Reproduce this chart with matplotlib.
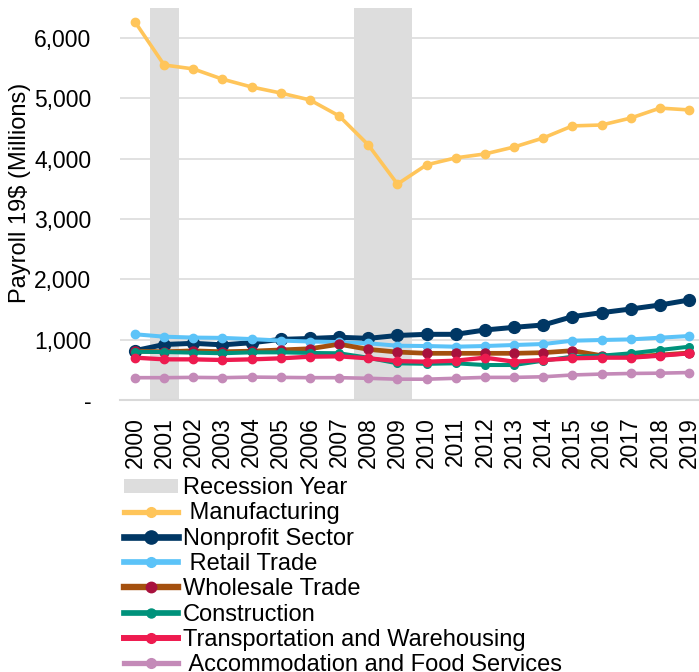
import matplotlib
matplotlib.use("Agg")
import matplotlib.pyplot as plt
from matplotlib.lines import Line2D
from matplotlib.patches import Patch
import numpy as np

plt.rcParams['font.family'] = ['Liberation Sans', 'DejaVu Sans']

years = list(range(2000, 2020))
year_labels = [str(y) for y in years]
recession_years = [2001, 2008, 2009]

manufacturing = [6270, 5555, 5490, 5320, 5190, 5090, 4975, 4710, 4230, 3580,
                 3900, 4015, 4080, 4195, 4345, 4545, 4560, 4675, 4840, 4810]
nonprofit = [818, 920, 940, 915, 950, 1005, 1020, 1040, 1022, 1070,
             1089, 1089, 1161, 1205, 1244, 1382, 1448, 1509, 1575, 1658]
retail = [1090, 1050, 1035, 1030, 1010, 985, 970, 960, 940, 900,
          895, 884, 895, 912, 928, 983, 995, 1005, 1033, 1061]
wholesale = [810, 800, 815, 800, 810, 830, 850, 925, 840, 795,
             774, 774, 774, 774, 785, 818, 735, 715, 745, 780]
construction = [800, 795, 785, 775, 790, 790, 780, 775, 700, 608,
                600, 608, 580, 580, 652, 718, 735, 774, 829, 884]
transportation = [702, 674, 674, 663, 674, 691, 718, 724, 691, 645,
                  635, 652, 702, 635, 663, 691, 702, 702, 735, 774]
accommodation = [370, 370, 375, 370, 380, 375, 370, 370, 360, 345,
                 345, 360, 375, 375, 385, 415, 430, 440, 445, 455]

series = [
    (" Manufacturing", manufacturing, "#FFC55A", "#FFC55A", 2.6, 6),
    ("Nonprofit Sector", nonprofit, "#003764", "#003764", 3.6, 8.5),
    (" Retail Trade", retail, "#5CC3F8", "#5CC3F8", 2.9, 6),
    ("Wholesale Trade", wholesale, "#A4500E", "#A8113D", 3.4, 6.5),
    ("Construction", construction, "#00927B", "#00927B", 2.9, 5.5),
    ("Transportation and Warehousing", transportation, "#EE1B4F", "#EE1B4F", 3.1, 6),
    (" Accommodation and Food Services", accommodation, "#C48AB8", "#C48AB8", 2.6, 6),
]

W, H = 699, 672
fig = plt.figure(figsize=(W / 100, H / 100), dpi=100)
ax_left, ax_right = 120.4, 699
ax_top, ax_bot = 8, 400
ax = fig.add_axes([ax_left / W, 1 - ax_bot / H, (ax_right - ax_left) / W, (ax_bot - ax_top) / H])

x = np.arange(len(years))
ymax = 6500
rec_heights = [ymax if y in recession_years else 0 for y in years]
ax.bar(x, rec_heights, width=1.0, color="#DDDDDD", linewidth=0, zorder=1)

for name, vals, lc, mc, lw, ms in series:
    ax.plot(x, vals, color=lc, lw=lw, marker="o", ms=ms, mfc=mc, mec=mc, zorder=3)

ax.set_xlim(-0.5, 19.34)
ax.set_ylim(0, ymax)
ax.set_yticks([0, 1000, 2000, 3000, 4000, 5000, 6000])
ax.set_yticklabels(["-", "1,000", "2,000", "3,000", "4,000", "5,000", "6,000"])
ax.set_xticks(x)
ax.set_xticklabels(year_labels, rotation=90)
ax.tick_params(axis="y", length=0, pad=21, labelsize=16.5)
ax.tick_params(axis="x", length=0, pad=12, labelsize=16.5)
ax.grid(axis="y", color="#D9D9D9", lw=1.1, zorder=0)
ax.set_axisbelow(True)
for s in ["top", "right", "left"]:
    ax.spines[s].set_visible(False)
ax.spines["bottom"].set_color("#D9D9D9")
ax.spines["bottom"].set_linewidth(1.5)

fig.text(20 / W, 1 - 193 / H, "Payroll 19$ (Millions)", rotation=90,
         ha="center", va="center", fontsize=17)

handles = [Patch(facecolor="#DDDDDD", edgecolor="none")]
labels = ["Recession Year"]
for name, vals, lc, mc, lw, ms in series:
    handles.append(Line2D([], [], color=lc, lw=lw + 1.2, marker="o", ms=ms + 1, mfc=mc, mec=mc))
    labels.append(name)

fig.legend(handles, labels, loc="upper left", bbox_to_anchor=(124 / W, 1 - 477 / H),
           frameon=False, fontsize=17, handlelength=2.3, handletextpad=0.2,
           labelspacing=0.14, borderpad=0, borderaxespad=0, handleheight=0.55)

fig.savefig("out.png", dpi=100)
